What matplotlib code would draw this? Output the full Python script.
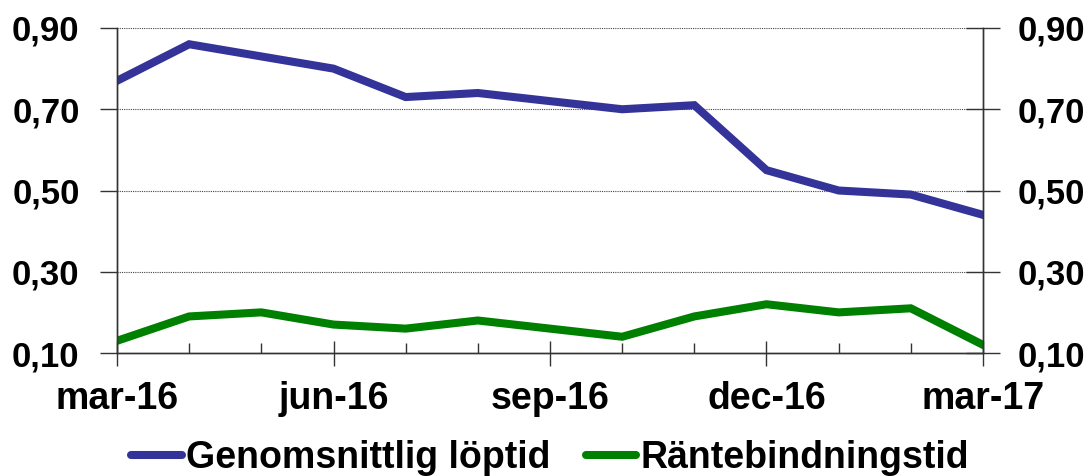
import matplotlib.pyplot as plt
from matplotlib.ticker import FixedLocator

plt.rcParams['font.family'] = ['Liberation Sans', 'DejaVu Sans']
plt.rcParams['font.weight'] = 'bold'

# Månadsdata mars 2016 - mars 2017
manader = ["mar-16", "apr-16", "maj-16", "jun-16", "jul-16", "aug-16", "sep-16",
           "okt-16", "nov-16", "dec-16", "jan-17", "feb-17", "mar-17"]
loptid = [0.77, 0.86, 0.83, 0.80, 0.73, 0.74, 0.72, 0.70, 0.71, 0.55, 0.50, 0.49, 0.44]
rantebindning = [0.13, 0.19, 0.20, 0.17, 0.16, 0.18, 0.16, 0.14, 0.19, 0.22, 0.20, 0.21, 0.12]
yticks = [0.10, 0.30, 0.50, 0.70, 0.90]
ylabels = [f"{v:.2f}".replace(".", ",") for v in yticks]

x = list(range(len(manader)))

fig = plt.figure(figsize=(10.91, 4.76), dpi=100)
ax = fig.add_axes([117/1091, 123/476, 866/1091, 325/476])

l1, = ax.plot(x, loptid, color="#333399", lw=5.8, solid_joinstyle="miter",
              label="Genomsnittlig löptid")
l2, = ax.plot(x, rantebindning, color="#008000", lw=5.8, solid_joinstyle="miter",
              label="Räntebindningstid")

ax.set_xlim(0, len(x) - 1)
ax.set_ylim(0.10, 0.90)
ax.set_yticks(yticks)
ax.set_yticklabels(ylabels)
major = [i for i in x if i % 3 == 0]
ax.set_xticks(major)
ax.set_xticklabels([manader[i] for i in major])
ax.xaxis.set_minor_locator(FixedLocator([i for i in x if i % 3 != 0]))

for v in yticks[1:]:
    ax.axhline(v, color="#444444", lw=0.8, ls=(0, (1, 1)), zorder=0)

# höger axel med egna tickar
ax2 = ax.twinx()
ax2.set_ylim(0.10, 0.90)
ax2.set_yticks(yticks)
ax2.set_yticklabels(ylabels)
ax2.tick_params(axis='y', direction='inout', length=24, width=1, labelsize=25,
                pad=13, color="#333333")

for a in (ax, ax2):
    a.spines['top'].set_visible(False)
    for s in ['left', 'right', 'bottom']:
        a.spines[s].set_color("#333333")
        a.spines[s].set_linewidth(1)

ax.tick_params(axis='y', which='major', direction='out', length=12, width=1,
               labelsize=25, pad=15, color="#333333")
ax.tick_params(axis='x', which='major', direction='inout', length=18, width=1,
               labelsize=27, pad=11, color="#333333")
ax.tick_params(axis='x', which='minor', direction='in', length=7, width=1,
               color="#333333")

leg = fig.legend(handles=[l1, l2], loc='center', bbox_to_anchor=(550/1091, 1 - 458/476),
                 ncol=2, frameon=False, fontsize=27, handlelength=1.35,
                 handletextpad=0.1, columnspacing=0.95, borderaxespad=0,
                 borderpad=0)
for h in leg.get_lines():
    h.set_solid_capstyle('round')

fig.savefig("out.png", dpi=100)
